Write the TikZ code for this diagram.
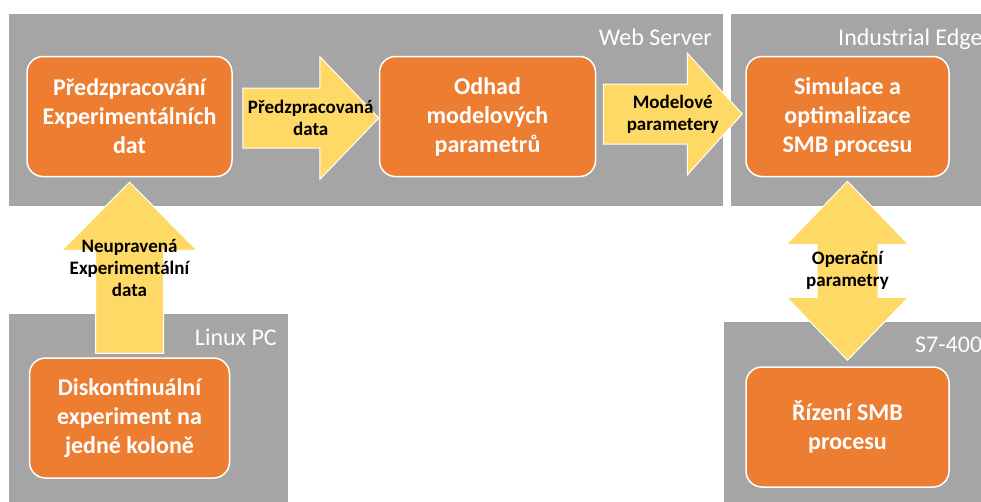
\documentclass[tikz,border=0pt]{standalone}
\usepackage{fontspec}
\setmainfont{Carlito}
\usetikzlibrary{positioning, calc}
\definecolor{zonegray}{HTML}{A5A5A5}
\definecolor{boxorange}{HTML}{ED7D31}
\definecolor{arrowyellow}{HTML}{FFD966}
\tikzset{
  zone/.style={fill=zonegray},
  zonelabel/.style={text=white, inner sep=0pt, font=\fontsize{24}{29}\selectfont},
  process/.style={rectangle, rounded corners=16pt, minimum height=120pt, draw=white, line width=1.5pt, fill=boxorange, text=white, align=center, font=\bfseries\fontsize{24}{29}\selectfont},
  fatarrow/.style={fill=arrowyellow, draw=white, line width=1pt},
  arrowlabel/.style={text=black, align=center, inner sep=0pt, font=\bfseries\fontsize{19}{22}\selectfont}
}
% block arrow: name, from, to, shaft half width, head half width, head length, label
\newcommand{\flowarrow}[7]{%
  \path[fatarrow] let \p1=#2, \p2=#3, \n1={atan2(\y2-\y1,\x2-\x1)}, \n2={veclen(\x2-\x1,\y2-\y1)} in
    [shift={(\p1)}, rotate=\n1]
    (0,#4) -- (\n2-#6,#4) -- (\n2-#6,#5) -- (\n2,0) -- (\n2-#6,-#5) -- (\n2-#6,-#4) -- (0,-#4) -- cycle
    (\n2/2,0) node (#1) [arrowlabel] {#7};}
% same with a head at both ends
\newcommand{\dualarrow}[7]{%
  \path[fatarrow] let \p1=#2, \p2=#3, \n1={atan2(\y2-\y1,\x2-\x1)}, \n2={veclen(\x2-\x1,\y2-\y1)} in
    [shift={(\p1)}, rotate=\n1]
    (0,0) -- (#6,#5) -- (#6,#4) -- (\n2-#6,#4) -- (\n2-#6,#5) -- (\n2,0) -- (\n2-#6,-#5) -- (\n2-#6,-#4) -- (#6,-#4) -- (#6,-#5) -- cycle
    (\n2/2,0) node (#1) [arrowlabel] {#7};}

\begin{document}
\begin{tikzpicture}[x=1pt, y=-1pt]
  \useasboundingbox (0,0) rectangle (981,501);
  \clip (0,0) rectangle (981,501);

  % zones
  \fill[zone] (9,14) rectangle (723,206);
  \fill[zone] (731,14) rectangle (995,206);
  \fill[zone] (9,314) rectangle (288,510);
  \fill[zone] (724,322) rectangle (995,510);
  \node (websrv) [zonelabel, anchor=base east] at (712,45) {Web Server};
  \node (edge) [zonelabel, anchor=base west] at (838,45) {Industrial Edge};
  \node (linux) [zonelabel, anchor=base east] at (277,345) {Linux PC};
  \node (plc) [zonelabel, anchor=base west] at (915,352) {S7-400};

  % process blocks
  \node (prep) [process, minimum width=205pt] at (129.5,116.5) {Předzpracování\\Experimentálních\\dat};
  \node (odhad) [process, minimum width=216pt, right=146pt of prep] {Odhad\\modelových\\parametrů};
  \node (simul) [process, minimum width=203pt, right=149pt of odhad] {Simulace a\\optimalizace\\SMB procesu};
  \node (disk) [process, minimum width=200pt, below=180pt of prep] {Diskontinuální\\experiment na\\jedné koloně};
  \node (rizeni) [process, minimum width=203pt, below=189pt of simul] {Řízení SMB\\procesu};

  % data flow
  \flowarrow{lblprep}{($(prep.east)+(10,1.5)$)}{($(odhad.west)+(0,1.5)$)}{30}{61.5}{59}{Předzpracovaná\\data}
  \flowarrow{lblmodel}{($(odhad.east)+(7,-2.5)$)}{($(simul.west)+(-3,-2.5)$)}{30}{61}{55}{Modelové\\parametery}
  \flowarrow{lblraw}{($(disk.north)+(0,-4)$)}{($(prep.south)+(0,5)$)}{34}{67.5}{68}{Neupravená\\Experimentální\\data}
  \dualarrow{lblop}{($(simul.south)+(0,4)$)}{($(rizeni.north)+(0,-6)$)}{30.5}{61}{63}{Operační\\parametry}
\end{tikzpicture}
\end{document}
